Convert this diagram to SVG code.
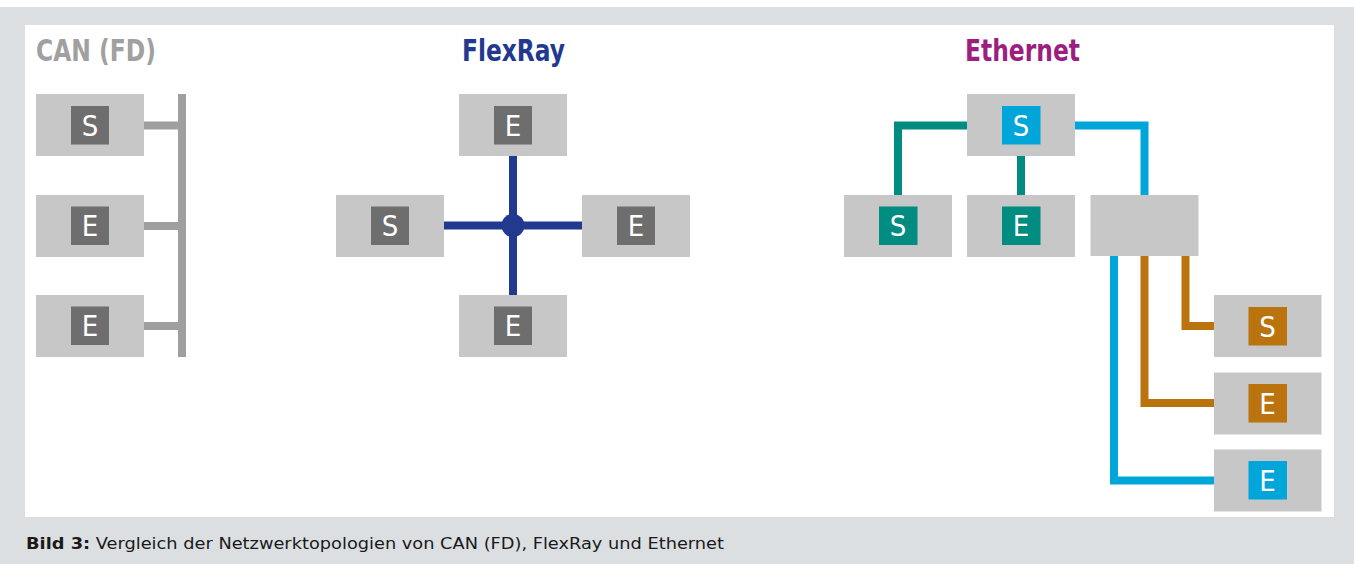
<svg xmlns="http://www.w3.org/2000/svg" width="1354" height="564" viewBox="0 0 1354 564">
  <style>
    .box { fill: #c6c7c6; }
    .sq-grey { fill: #6e6e6e; }
    .sq-blue { fill: #00a6d9; }
    .sq-teal { fill: #008c80; }
    .sq-brown { fill: #bb730e; }
    .lbl { font-family: 'DejaVu Sans Condensed', 'DejaVu Sans', sans-serif; font-stretch: condensed; font-size: 29px; fill: #ffffff; text-anchor: middle; }
    .title { font-family: 'DejaVu Sans Condensed', 'DejaVu Sans', sans-serif; font-stretch: condensed; font-weight: bold; font-size: 31px; }
    .caption { font-family: 'DejaVu Sans', 'Liberation Sans', sans-serif; font-size: 15px; fill: #1a1a1a; }
    .can { stroke: #9f9f9f; stroke-width: 8; fill: none; }
    .flex { stroke: #213a8f; stroke-width: 8; fill: none; }
    .teal { stroke: #008c80; stroke-width: 8; fill: none; }
    .blue { stroke: #00a6d9; stroke-width: 8; fill: none; }
    .brown { stroke: #bb730e; stroke-width: 8; fill: none; }
  </style>

  <!-- frame -->
  <rect x="0" y="0" width="1354" height="564" fill="#ffffff"/>
  <rect x="0" y="7" width="1354" height="557" fill="#dcdfe2"/>
  <rect x="25" y="25" width="1309" height="492" fill="#ffffff"/>

  <!-- titles -->
  <text class="title" x="36" y="61" fill="#a0a0a0" textLength="120" lengthAdjust="spacingAndGlyphs">CAN (FD)</text>
  <text class="title" x="462" y="61" fill="#213a8f" textLength="103" lengthAdjust="spacingAndGlyphs">FlexRay</text>
  <text class="title" x="965" y="61" fill="#9c1f7f" textLength="115" lengthAdjust="spacingAndGlyphs">Ethernet</text>

  <!-- connectors -->
  <g id="connectors">
    <!-- CAN bus -->
    <line class="can" x1="182" y1="94" x2="182" y2="357"/>
    <line class="can" x1="144" y1="125.5" x2="182" y2="125.5"/>
    <line class="can" x1="144" y1="226" x2="182" y2="226"/>
    <line class="can" x1="144" y1="326" x2="182" y2="326"/>
    <!-- FlexRay star -->
    <line class="flex" x1="513" y1="156" x2="513" y2="295"/>
    <line class="flex" x1="444" y1="225.5" x2="582" y2="225.5"/>
    <circle cx="513" cy="225.5" r="11.5" fill="#213a8f"/>
    <!-- Ethernet switched -->
    <polyline class="teal" points="967,125.5 898,125.5 898,195"/>
    <line class="teal" x1="1021" y1="156" x2="1021" y2="195"/>
    <polyline class="blue" points="1075,125.5 1144.5,125.5 1144.5,195"/>
    <polyline class="blue" points="1114,256 1114,480.5 1214,480.5"/>
    <polyline class="brown" points="1144.5,256 1144.5,403 1214,403"/>
    <polyline class="brown" points="1185.5,256 1185.5,326 1214,326"/>
  </g>

  <!-- CAN nodes -->
  <g id="can-s">
    <rect class="box" x="36" y="94" width="108" height="62"/>
    <rect class="sq-grey" x="71" y="106" width="38" height="38.5"/>
    <text class="lbl" x="90" y="135.5">S</text>
  </g>
  <g id="can-e1">
    <rect class="box" x="36" y="195" width="108" height="62"/>
    <rect class="sq-grey" x="71" y="206.5" width="38" height="38.5"/>
    <text class="lbl" x="90" y="236">E</text>
  </g>
  <g id="can-e2">
    <rect class="box" x="36" y="295" width="108" height="62"/>
    <rect class="sq-grey" x="71" y="306.5" width="38" height="38.5"/>
    <text class="lbl" x="90" y="336">E</text>
  </g>

  <!-- FlexRay nodes -->
  <g id="fr-top">
    <rect class="box" x="459" y="94" width="108" height="62"/>
    <rect class="sq-grey" x="494" y="106" width="38" height="38.5"/>
    <text class="lbl" x="513" y="135.5">E</text>
  </g>
  <g id="fr-left">
    <rect class="box" x="336" y="195" width="108" height="62"/>
    <rect class="sq-grey" x="371" y="206.5" width="38" height="38.5"/>
    <text class="lbl" x="390" y="236">S</text>
  </g>
  <g id="fr-right">
    <rect class="box" x="582" y="195" width="108" height="62"/>
    <rect class="sq-grey" x="617" y="206.5" width="38" height="38.5"/>
    <text class="lbl" x="636" y="236">E</text>
  </g>
  <g id="fr-bottom">
    <rect class="box" x="459" y="295" width="108" height="62"/>
    <rect class="sq-grey" x="494" y="306.5" width="38" height="38.5"/>
    <text class="lbl" x="513" y="336">E</text>
  </g>

  <!-- Ethernet nodes -->
  <g id="eth-top">
    <rect class="box" x="967" y="94" width="108" height="62"/>
    <rect class="sq-blue" x="1002" y="106" width="38.5" height="38.5"/>
    <text class="lbl" x="1021" y="135.5">S</text>
  </g>
  <g id="eth-left">
    <rect class="box" x="844" y="195" width="108" height="62"/>
    <rect class="sq-teal" x="879" y="206.5" width="38.5" height="38.5"/>
    <text class="lbl" x="898" y="236">S</text>
  </g>
  <g id="eth-mid">
    <rect class="box" x="967" y="195" width="108" height="62"/>
    <rect class="sq-teal" x="1002" y="206.5" width="38.5" height="38.5"/>
    <text class="lbl" x="1021" y="236">E</text>
  </g>
  <g id="eth-switch">
    <rect class="box" x="1090.5" y="195" width="108" height="61"/>
  </g>
  <g id="eth-r1">
    <rect class="box" x="1214" y="295" width="107.5" height="62"/>
    <rect class="sq-brown" x="1248.5" y="307" width="38.5" height="38.5"/>
    <text class="lbl" x="1267.5" y="336.5">S</text>
  </g>
  <g id="eth-r2">
    <rect class="box" x="1214" y="372.5" width="107.5" height="62"/>
    <rect class="sq-brown" x="1248.5" y="384" width="38.5" height="38.5"/>
    <text class="lbl" x="1267.5" y="413.5">E</text>
  </g>
  <g id="eth-r3">
    <rect class="box" x="1214" y="449.5" width="107.5" height="62"/>
    <rect class="sq-blue" x="1248.5" y="461" width="38.5" height="38.5"/>
    <text class="lbl" x="1267.5" y="490.5">E</text>
  </g>

  <!-- caption -->
  <text class="caption" x="26" y="549" textLength="698" lengthAdjust="spacingAndGlyphs"><tspan font-weight="bold">Bild 3:</tspan> Vergleich der Netzwerktopologien von CAN (FD), FlexRay und Ethernet</text>
</svg>
